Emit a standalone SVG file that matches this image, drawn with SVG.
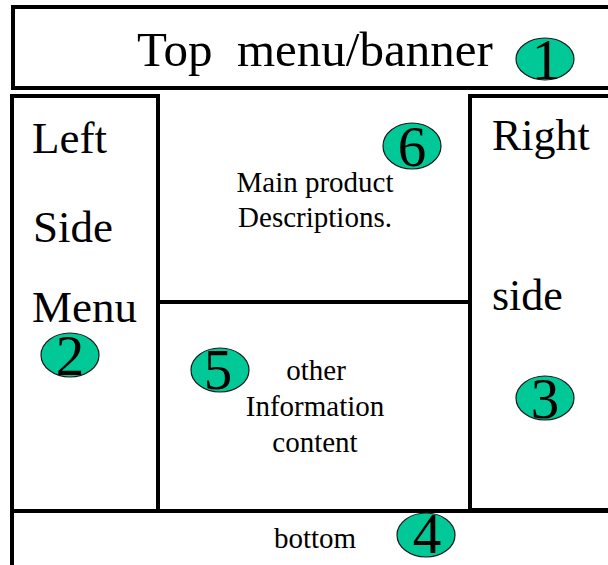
<svg xmlns="http://www.w3.org/2000/svg" width="608" height="565" viewBox="0 0 608 565">
<style>
.bd{fill:none;stroke:#000;stroke-width:4;stroke-linecap:square}
.t{font-family:"Liberation Serif","Times New Roman",serif;fill:#000}
.big{font-size:45px}
.rt{font-size:44px}
.sm{font-size:29px;text-anchor:middle}
.badge{fill:#00c896;stroke:#1a1a1a;stroke-width:1.2}
.num{font-family:"Liberation Serif","Times New Roman",serif;font-size:57px;text-anchor:middle;fill:#000}
</style>
<rect width="608" height="565" fill="#fff"/>
<g id="connectors"></g>
<g id="top-banner">
<rect class="bd" x="13" y="7" width="620" height="81"/>
<text class="t" x="137" y="66" font-size="49" xml:space="preserve">Top  menu/banner</text>
<ellipse class="badge" cx="545" cy="59" rx="29" ry="21"/>
<text class="num" x="546" y="79">1</text>
</g>
<g id="left-menu">
<rect class="bd" x="12" y="96" width="146" height="415"/>
<text class="t big" x="32" y="153">Left</text>
<text class="t big" x="33" y="242">Side</text>
<text class="t big" x="32" y="322">Menu</text>
<ellipse class="badge" cx="70" cy="355" rx="29" ry="22"/>
<text class="num" x="70" y="375">2</text>
</g>
<g id="main-product">
<path class="bd" d="M158 302H470"/>
<text class="t sm" x="315" y="192">Main product</text>
<text class="t sm" x="315" y="227">Descriptions.</text>
<ellipse class="badge" cx="412" cy="146" rx="29" ry="23"/>
<text class="num" x="412" y="166">6</text>
</g>
<g id="other-info">
<text class="t sm" x="316" y="380">other</text>
<text class="t sm" x="315" y="416">Information</text>
<text class="t sm" x="315" y="452">content</text>
<ellipse class="badge" cx="220" cy="370" rx="29" ry="22"/>
<text class="num" x="218" y="389">5</text>
</g>
<g id="right-side">
<rect class="bd" x="470" y="96" width="150" height="414"/>
<text class="t rt" x="492" y="150">Right</text>
<text class="t rt" x="492" y="310">side</text>
<ellipse class="badge" cx="545" cy="398" rx="29" ry="22"/>
<text class="num" x="545" y="418">3</text>
</g>
<g id="bottom">
<path class="bd" d="M12 570V511H620"/>
<text class="t sm" x="315" y="548">bottom</text>
<ellipse class="badge" cx="426" cy="535" rx="29" ry="22"/>
<text class="num" x="427" y="553">4</text>
</g>
</svg>
